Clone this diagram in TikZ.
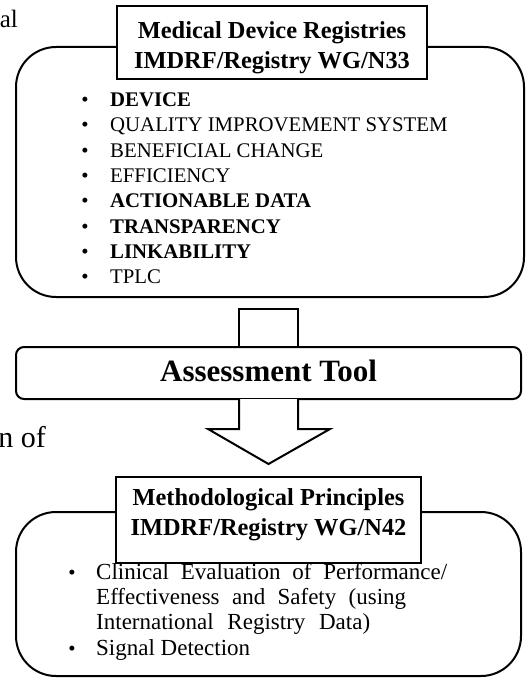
\documentclass[tikz,border=0pt]{standalone}
\usepackage{fontspec}
\setmainfont{Liberation Serif}
\usetikzlibrary{calc}
\tikzset{
  bigbox/.style={draw, line width=2pt, rounded corners=40pt, inner sep=0pt},
  titlebox/.style={draw, line width=2.6pt, fill=white, inner sep=0pt},
  assessbox/.style={draw, line width=2pt, fill=white, rounded corners=8pt, inner sep=0pt},
  blockarrow/.style={draw, line width=2pt, fill=white, line join=miter},
  titletext/.style={anchor=base, inner sep=0pt, font=\bfseries\fontsize{24.4}{30}\selectfont},
  itemtext/.style={anchor=base west, inner sep=0pt, font=\fontsize{20.8}{25.4}\selectfont},
  itembold/.style={itemtext, font=\bfseries\fontsize{20.8}{25.4}\selectfont},
  bullettext/.style={anchor=base, inner sep=0pt, font=\fontsize{20.8}{25.4}\selectfont},
  lowtext/.style={anchor=base west, inner sep=0pt, font=\fontsize{23}{25.4}\selectfont},
  fragment/.style={anchor=base east, inner sep=0pt, font=\fontsize{25}{30}\selectfont},
}
\begin{document}
\begin{tikzpicture}[x=1pt,y=-1pt]
\useasboundingbox (0,0) rectangle (528,685);
% fragments at the left edge
\node[fragment] (fraga) at (18,28) {al};
\node[fragment, font=\fontsize{30}{34}\selectfont] (fragb) at (46,447) {n of};

% top registry box
\node[bigbox, minimum width=508pt, minimum height=250pt] (reg) at (270,172) {};
\node[titlebox, minimum width=310pt, minimum height=73pt] (regtitle) at (272,42.5) {};
\node[titletext] (regt1) at (272,38) {Medical Device Registries};
\node[titletext] (regt2) at (272,68) {IMDRF/Registry WG/N33};

\foreach \i/\txt/\sty in {1/DEVICE/itembold, 2/QUALITY IMPROVEMENT SYSTEM/itemtext, 3/BENEFICIAL CHANGE/itemtext, 4/EFFICIENCY/itemtext, 5/ACTIONABLE DATA/itembold, 6/TRANSPARENCY/itembold, 7/LINKABILITY/itembold, 8/TPLC/itemtext}{
  \pgfmathsetmacro{\yy}{106.5+25.35*(\i-1)}
  \node[bullettext] (b\i) at (85,\yy) {•};
  \node[\sty] (l\i) at (110,\yy) {\txt};
}

% upper arrow stub
\coordinate (stubtl) at (239,309);
\coordinate (stubbr) at (298,347);
\draw[blockarrow] (stubtl) rectangle (stubbr);

% assessment tool
\node[assessbox, minimum width=505pt, minimum height=52pt] (assess) at (268.5,373) {};
\node[anchor=base, inner sep=0pt, font=\bfseries\fontsize{31}{36}\selectfont] (assesst) at (268.5,381) {Assessment Tool};

% lower block arrow
\draw[blockarrow] ($(assess.south)+(-29.5,-1)$) -- ++(0,30) -- ++(-31,0) -- ($(assess.south)+(0,64)$) -- ($(assess.south)+(61.5,29)$) -- ++(-32,0) -- ($(assess.south)+(29.5,-1)$);

% bottom methodological box
\node[bigbox, minimum width=505pt, minimum height=164pt] (meth) at (268.5,594) {};
\node[titlebox, minimum width=305pt, minimum height=86pt] (methtitle) at (268.5,520) {};
\node[titletext] (metht1) at (268.5,505) {Methodological Principles};
\node[titletext] (metht2) at (268.5,535) {IMDRF/Registry WG/N42};

\node[bullettext] (mb1) at (72,579) {•};
\node[lowtext] (m1) at (96,579) {\makebox[351pt][s]{Clinical Evaluation of Performance/}};
\node[lowtext] (m2) at (96,604) {\makebox[310pt][s]{Effectiveness and Safety (using}};
\node[lowtext] (m3) at (96,629.5) {\makebox[274pt][s]{International Registry Data)}};
\node[bullettext] (mb2) at (72,655) {•};
\node[lowtext] (m4) at (96,655) {Signal Detection};
\end{tikzpicture}
\end{document}
